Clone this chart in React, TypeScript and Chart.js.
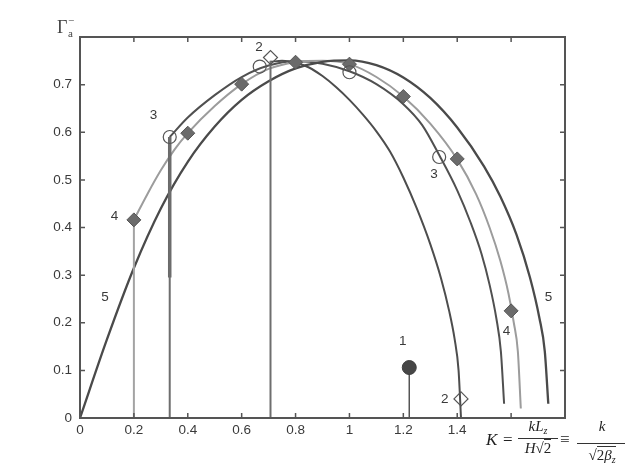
import React, { useEffect, useRef } from "react";
import { Chart, registerables } from "chart.js";
Chart.register(...registerables);

// ---- data ----
const xMin = 0;
const xMax = 1.8;
const yMin = 0;
const yMax = 0.8;
const xStep = 0.2;
const yStep = 0.1;
const xLabelLast = 1.4;
const yLabelLast = 0.7;

// curve 5 (dark, outermost)
const curve5K = [0, 0.1, 0.2, 0.3, 0.4, 0.5, 0.6, 0.7, 0.8, 0.9, 1.0, 1.1, 1.2, 1.3, 1.4, 1.5, 1.56, 1.62, 1.67, 1.705, 1.725, 1.738];
const curve5G = [0, 0.165, 0.315, 0.44, 0.538, 0.612, 0.668, 0.707, 0.734, 0.748, 0.751, 0.741, 0.715, 0.672, 0.61, 0.528, 0.465, 0.385, 0.295, 0.21, 0.14, 0.03];

// curve 4 (light grey)
const curve4K = [0.2, 0.25, 0.3, 0.35, 0.4, 0.5, 0.6, 0.7, 0.8, 0.9, 1.0, 1.1, 1.2, 1.3, 1.4, 1.47, 1.52, 1.56, 1.59, 1.61, 1.625, 1.636];
const curve4G = [0.416, 0.47, 0.52, 0.563, 0.598, 0.655, 0.701, 0.733, 0.747, 0.75, 0.743, 0.716, 0.675, 0.618, 0.543, 0.47, 0.4, 0.33, 0.262, 0.2, 0.14, 0.02];

// curve 3 (dark)
const curve3K = [0.333, 0.4, 0.5, 0.6, 0.7, 0.8, 0.9, 1.0, 1.1, 1.2, 1.27, 1.335, 1.4, 1.45, 1.49, 1.52, 1.545, 1.562, 1.574];
const curve3G = [0.59, 0.631, 0.678, 0.716, 0.74, 0.749, 0.744, 0.728, 0.701, 0.659, 0.615, 0.55, 0.478, 0.41, 0.345, 0.28, 0.21, 0.14, 0.03];

// curve 2 (dark, innermost on the right)
const curve2K = [0.707, 0.75, 0.8, 0.85, 0.9, 0.95, 1.0, 1.05, 1.1, 1.15, 1.2, 1.25, 1.3, 1.34, 1.37, 1.39, 1.405, 1.414];
const curve2G = [0.748, 0.75, 0.746, 0.736, 0.718, 0.695, 0.668, 0.637, 0.602, 0.56, 0.505, 0.44, 0.365, 0.293, 0.225, 0.167, 0.1, 0];

// vertical stems
const stemK = [0.2, 0.333, 0.707, 1.222];
const stemG = [0.416, 0.59, 0.75, 0.106];
const thickStemK = [0.333, 0.333];
const thickStemG = [0.295, 0.59];

// markers
const openCircleK = [0.333, 0.667, 1.0, 1.333];
const openCircleG = [0.59, 0.738, 0.726, 0.548];
const filledDiamondK = [0.2, 0.4, 0.6, 0.8, 1.0, 1.2, 1.4, 1.6];
const filledDiamondG = [0.416, 0.598, 0.701, 0.747, 0.743, 0.675, 0.544, 0.225];
const openDiamondK = [0.707, 1.414];
const openDiamondG = [0.757, 0.04];
const dotK = [1.222];
const dotG = [0.106];

// curve number labels
const labelText = ["1", "2", "2", "3", "3", "4", "4", "5", "5"];
const labelK = [1.198, 0.664, 1.354, 0.273, 1.314, 0.128, 1.583, 0.093, 1.739];
const labelG = [0.162, 0.778, 0.04, 0.636, 0.511, 0.423, 0.183, 0.253, 0.253];

// ---- styles ----
const stemColors = ["#a3a3a3", "#6e6e6e", "#6e6e6e", "#555555"];
const stemWidths = [2, 2, 2, 1.5];
const sans = '"Liberation Sans", Arial, sans-serif';
const serif = '"Liberation Serif", "DejaVu Serif", serif';

function pts(k: number[], g: number[]) {
  return k.map((v, i) => ({ x: v, y: g[i] }));
}
function fmt(v: number) {
  return String(Math.round(v * 10) / 10);
}

export default function App() {
  const ref = useRef<HTMLCanvasElement>(null);

  useEffect(() => {
    const canvas = ref.current!;
    const deco = {
      id: "deco",
      afterDatasetsDraw(chart: any) {
        const { ctx, scales } = chart;
        const x = scales.x;
        const y = scales.y;
        ctx.save();
        ctx.fillStyle = "#3a3a3a";
        ctx.font = `13.5px ${sans}`;
        ctx.textAlign = "center";
        ctx.textBaseline = "middle";
        labelText.forEach((t, i) => {
          ctx.fillText(t, x.getPixelForValue(labelK[i]), y.getPixelForValue(labelG[i]));
        });
        ctx.restore();
      },
      afterDraw(chart: any) {
        const { ctx, chartArea, scales } = chart;
        const { left, right, top, bottom } = chartArea;
        ctx.save();
        ctx.strokeStyle = "#555555";
        ctx.lineWidth = 1.5;
        ctx.beginPath();
        scales.x.ticks.forEach((t: any) => {
          if (t.value <= xMin + 1e-6 || t.value >= xMax - 1e-6) return;
          const px = scales.x.getPixelForValue(t.value);
          ctx.moveTo(px, bottom);
          ctx.lineTo(px, bottom - 5);
          ctx.moveTo(px, top);
          ctx.lineTo(px, top + 5);
        });
        scales.y.ticks.forEach((t: any) => {
          if (t.value <= yMin + 1e-6 || t.value >= yMax - 1e-6) return;
          const py = scales.y.getPixelForValue(t.value);
          ctx.moveTo(left, py);
          ctx.lineTo(left + 5, py);
          ctx.moveTo(right, py);
          ctx.lineTo(right - 5, py);
        });
        ctx.stroke();
        ctx.lineWidth = 2;
        ctx.strokeRect(left, top, right - left, bottom - top);
        ctx.restore();
      },
    };

    const curveBase = {
      type: "line",
      pointRadius: 0,
      fill: false,
      cubicInterpolationMode: "monotone",
      order: 3,
    };

    const datasets: any[] = [
      { ...curveBase, data: pts(curve5K, curve5G), borderColor: "#4a4a4a", borderWidth: 2.3 },
      { ...curveBase, data: pts(curve4K, curve4G), borderColor: "#9c9c9c", borderWidth: 2 },
      { ...curveBase, data: pts(curve3K, curve3G), borderColor: "#505050", borderWidth: 2 },
      { ...curveBase, data: pts(curve2K, curve2G), borderColor: "#4d4d4d", borderWidth: 2 },
      ...stemK.map((k, i) => ({
        type: "line",
        data: [{ x: k, y: 0 }, { x: k, y: stemG[i] }],
        borderColor: stemColors[i],
        borderWidth: stemWidths[i],
        pointRadius: 0,
        fill: false,
        order: 2,
      })),
      {
        type: "line",
        data: pts(thickStemK, thickStemG),
        borderColor: "#6a6a6a",
        borderWidth: 3.5,
        pointRadius: 0,
        fill: false,
        order: 2,
      },
      {
        type: "line",
        data: pts(openCircleK, openCircleG),
        showLine: false,
        pointStyle: "circle",
        pointRadius: 6.5,
        pointBorderWidth: 1.2,
        pointBorderColor: "#555555",
        pointBackgroundColor: "rgba(255,255,255,0)",
        order: 0,
      },
      {
        type: "line",
        data: pts(filledDiamondK, filledDiamondG),
        showLine: false,
        pointStyle: "rectRot",
        pointRadius: 7,
        pointBorderWidth: 1,
        pointBorderColor: "#555555",
        pointBackgroundColor: "#6b6b6b",
        order: 0,
      },
      {
        type: "line",
        data: pts(openDiamondK, openDiamondG),
        showLine: false,
        pointStyle: "rectRot",
        pointRadius: 7,
        pointBorderWidth: 1.2,
        pointBorderColor: "#555555",
        pointBackgroundColor: "rgba(255,255,255,0)",
        order: 0,
      },
      {
        type: "line",
        data: pts(dotK, dotG),
        showLine: false,
        pointStyle: "circle",
        pointRadius: 7,
        pointBorderWidth: 1,
        pointBorderColor: "#3f3f3f",
        pointBackgroundColor: "#464646",
        order: 0,
      },
    ];

    const chart = new Chart(canvas, {
      type: "line",
      data: { datasets },
      options: {
        animation: false,
        responsive: false,
        devicePixelRatio: 1,
        layout: { padding: { left: 0, right: 60, top: 37, bottom: 0 } },
        plugins: { legend: { display: false }, tooltip: { enabled: false } },
        scales: {
          x: {
            type: "linear",
            min: xMin,
            max: xMax,
            grid: { display: false, drawTicks: false },
            border: { display: false },
            afterFit: (s: any) => {
              s.height = 51;
            },
            ticks: {
              stepSize: xStep,
              padding: 4,
              color: "#3a3a3a",
              font: { family: sans, size: 13.5 },
              maxRotation: 0,
              autoSkip: false,
              callback: (v: any) => (v <= xLabelLast + 1e-6 ? fmt(v) : ""),
            },
          },
          y: {
            type: "linear",
            min: yMin,
            max: yMax,
            grid: { display: false, drawTicks: false },
            border: { display: false },
            afterFit: (s: any) => {
              s.width = 80;
            },
            ticks: {
              stepSize: yStep,
              padding: 8,
              color: "#3a3a3a",
              font: { family: sans, size: 13.5 },
              autoSkip: false,
              callback: (v: any) => (v <= yLabelLast + 1e-6 ? fmt(v) : ""),
            },
          },
        },
      } as any,
      plugins: [deco],
    } as any);
    return () => chart.destroy();
  }, []);

  const abs = (left: number, top: number, extra: any = {}) => ({
    position: "absolute" as const,
    left,
    top,
    whiteSpace: "nowrap" as const,
    color: "#222",
    ...extra,
  });

  return (
    <div style={{ position: "absolute", left: 0, top: 0, width: 625, height: 469, overflow: "hidden", background: "#fff" }}>
      <canvas ref={ref} width={625} height={469} style={{ position: "absolute", left: 0, top: 0 }} />
      {/* y-axis symbol */}
      <div style={abs(57, 18, { font: `18px ${serif}`, lineHeight: "18px", color: "#444" })}>Γ</div>
      <div style={abs(68, 15, { font: `11px ${serif}`, lineHeight: "11px", color: "#444" })}>−</div>
      <div style={abs(68, 28, { font: `11px ${serif}`, lineHeight: "11px", color: "#444" })}>a</div>
      {/* x-axis formula */}
      <div style={abs(486, 431, { font: `italic 17px ${serif}`, lineHeight: "17px" })}>K</div>
      <div style={abs(503, 431, { font: `17px ${serif}`, lineHeight: "17px" })}>=</div>
      <div style={abs(518, 419, { width: 40, textAlign: "center", font: `italic 15px ${serif}`, lineHeight: "15px" })}>
        kL<span style={{ fontSize: 10, position: "relative", top: 3 }}>z</span>
      </div>
      <div style={abs(518, 438, { width: 40, height: 1, background: "#333" })} />
      <div style={abs(518, 441, { width: 40, textAlign: "center", font: `italic 15px ${serif}`, lineHeight: "15px" })}>
        H<span style={{ fontStyle: "normal" }}>√</span>
        <span style={{ fontStyle: "normal", borderTop: "1px solid #333" }}>2</span>
      </div>
      <div style={abs(560, 431, { font: `17px ${serif}`, lineHeight: "17px" })}>≡</div>
      <div style={abs(577, 419, { width: 50, textAlign: "center", font: `italic 15px ${serif}`, lineHeight: "15px" })}>k</div>
      <div style={abs(577, 443, { width: 50, height: 1, background: "#333" })} />
      <div style={abs(578, 447, { width: 48, textAlign: "center", font: `italic 15px ${serif}`, lineHeight: "16px" })}>
        <span style={{ fontStyle: "normal" }}>√</span>
        <span style={{ borderTop: "1px solid #333", fontStyle: "normal" }}>
          2<span style={{ fontStyle: "italic", borderTop: "1px solid #333" }}>β</span>
          <span style={{ fontSize: 10, position: "relative", top: 3, fontStyle: "italic" }}>z</span>
        </span>
      </div>
    </div>
  );
}
